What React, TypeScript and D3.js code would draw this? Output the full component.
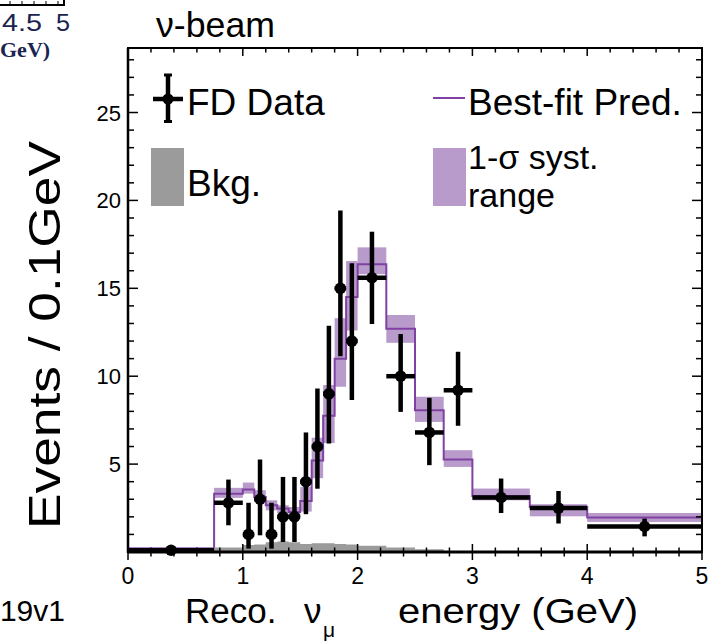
import React from "react";
import * as d3 from "d3";

const binEdges = [0, 0.75, 1.0, 1.1, 1.2, 1.3, 1.4, 1.5, 1.6, 1.7, 1.8, 1.9, 2.0, 2.25, 2.5, 2.75, 3.0, 3.5, 4.0, 5.0];
const dataValues = [0.1, 2.8, 1, 3, 1, 2, 2, 4, 6, 9, 15, 12, 15.6, 10, 6.8, 9.2, 3.1, 2.5, 1.45];
const dataLow = [0.05, 1.52, 0.19, 0.95, 0.19, 0.57, 0.57, 2.15, 3.6, 6.17, 11.14, 8.64, 12.97, 7.97, 4.94, 7.18, 2.22, 1.62, 0.89];
const dataHigh = [0.2, 4.12, 2.8, 5.26, 2.8, 4.27, 4.27, 6.8, 9.3, 12.87, 19.42, 16.42, 18.22, 12.4, 8.77, 11.39, 4.18, 3.47, 1.9];
const predValues = [0.19, 3.32, 3.55, 3.13, 2.66, 2.47, 2.28, 2.9, 5.2, 7.75, 11.0, 14.5, 16.37, 12.7, 8.07, 5.26, 3.19, 2.56, 1.96];
const bandLow = [0.12, 3.08, 3.32, 2.89, 2.37, 2.19, 1.99, 2.3, 4.2, 6.2, 9.4, 12.6, 15.8, 11.9, 7.4, 4.84, 2.94, 2.03, 1.71];
const bandHigh = [0.28, 3.65, 3.95, 3.51, 2.94, 2.66, 2.56, 3.7, 6.5, 9.5, 13.3, 16.55, 17.33, 13.48, 8.83, 5.79, 3.61, 2.72, 2.22];
const bkgValues = [0.03, 0.25, 0.4, 0.42, 0.55, 0.6, 0.55, 0.45, 0.5, 0.5, 0.45, 0.42, 0.35, 0.25, 0.15, 0.05, 0, 0, 0];
const xTickLabels = ["0", "1", "2", "3", "4", "5"];
const yTickLabels = ["5", "10", "15", "20", "25"];

const FONT = "'Liberation Sans', Arial, Helvetica, sans-serif";
const PURPLE = "#8042a2";
const BAND = "#b89acb";
const GRAY = "#9b9b9b";

export default function App() {
  const L = 128, R = 702, T = 48, B = 552;
  const x = d3.scaleLinear().domain([0, 5]).range([L, R]);
  const y = d3.scaleLinear().domain([0, 28.67]).range([B, T]);
  const bins = binEdges.slice(0, -1).map((lo, i) => ({ lo, hi: binEdges[i + 1], i }));

  let predPath = "";
  bins.forEach((b, i) => {
    predPath += (i === 0 ? "M" : "L") + x(b.lo) + "," + y(predValues[i]) + "L" + x(b.hi) + "," + y(predValues[i]);
  });
  let bkgPath = "M" + x(0) + "," + y(0);
  bins.forEach((b, i) => {
    bkgPath += "L" + x(b.lo) + "," + y(bkgValues[i]) + "L" + x(b.hi) + "," + y(bkgValues[i]);
  });
  bkgPath += "L" + x(5) + "," + y(0) + "Z";

  const xMinor = d3.range(0, 5.001, 0.2);
  const yMinor = d3.range(1, 28.5, 1);

  return (
    <svg width={717} height={641} style={{ display: "block", position: "absolute", left: 0, top: 0 }}>
      <rect width={717} height={641} fill="#fff" />
      {/* remnants of neighbouring figure */}
      <path d="M0,5 L64,5 L64,0" fill="none" stroke="#000" strokeWidth={2} />
      {[10, 22, 34, 46, 58].map((t) => (
        <line key={t} x1={t} x2={t} y1={5} y2={1} stroke="#000" strokeWidth={1} />
      ))}
      <text x={2} y={31} fontFamily={FONT} fontSize={23} textLength={40} lengthAdjust="spacingAndGlyphs" fill="#1b2450">4.5</text>
      <text x={56} y={31} fontFamily={FONT} fontSize={23} textLength={14} lengthAdjust="spacingAndGlyphs" fill="#1b2450">5</text>
      <text x={0} y={57} fontFamily="'Liberation Serif', 'DejaVu Serif', serif" fontWeight="bold" fontSize={22} fill="#1b2450">GeV)</text>

      {/* title */}
      <text x={156} y={37} fontFamily={FONT} fontSize={35} textLength={119} lengthAdjust="spacingAndGlyphs" fill="#000">ν-beam</text>

      {/* band */}
      {bins.map((b) => (
        <rect key={"band" + b.i} x={x(b.lo)} width={x(b.hi) - x(b.lo)} y={y(bandHigh[b.i])} height={y(bandLow[b.i]) - y(bandHigh[b.i])} fill={BAND} />
      ))}
      <path d={predPath} fill="none" stroke={PURPLE} strokeWidth={2} />
      <path d={bkgPath} fill={GRAY} stroke="none" />

      {/* data */}
      {bins.map((b) => {
        const cx = x((b.lo + b.hi) / 2);
        const cy = y(dataValues[b.i]);
        return (
          <g key={"d" + b.i}>
            <line x1={x(b.lo)} x2={x(b.hi)} y1={cy} y2={cy} stroke="#000" strokeWidth={4.5} />
            <line x1={cx} x2={cx} y1={y(dataLow[b.i])} y2={y(dataHigh[b.i])} stroke="#000" strokeWidth={4.5} />
            <circle cx={cx} cy={cy} r={5.8} fill="#000" />
          </g>
        );
      })}

      {/* frame */}
      <rect x={L} y={T} width={R - L} height={B - T} fill="none" stroke="#000" strokeWidth={2} />
      <line x1={L} x2={L} y1={T} y2={B + 1} stroke="#000" strokeWidth={2.5} />
      <line x1={L} x2={R} y1={B} y2={B} stroke="#000" strokeWidth={3} />

      {/* x ticks */}
      {xMinor.map((v, i) => {
        const major = Math.abs(v - Math.round(v)) < 1e-6;
        const h = major ? 8 : 4.5;
        return (
          <g key={"xt" + i}>
            <line x1={x(v)} x2={x(v)} y1={B - h} y2={B + h} stroke="#000" strokeWidth={1.5} />
            <line x1={x(v)} x2={x(v)} y1={T} y2={T + h} stroke="#000" strokeWidth={1.5} />
          </g>
        );
      })}
      {/* y ticks */}
      {yMinor.map((v) => {
        const major = v % 5 === 0;
        const w = major ? 10 : 6;
        return (
          <g key={"yt" + v}>
            <line x1={L} x2={L + w} y1={y(v)} y2={y(v)} stroke="#000" strokeWidth={1.5} />
            <line x1={R - w} x2={R} y1={y(v)} y2={y(v)} stroke="#000" strokeWidth={1.5} />
          </g>
        );
      })}
      {xTickLabels.map((t) => (
        <text key={"xl" + t} x={x(+t)} y={584} textAnchor="middle" fontFamily={FONT} fontSize={23} fill="#000">{t}</text>
      ))}
      {yTickLabels.map((t) => (
        <text key={"yl" + t} x={121} y={y(+t) + 8} textAnchor="end" fontFamily={FONT} fontSize={22} fill="#000">{t}</text>
      ))}

      {/* axis titles */}
      <text transform="translate(60,335) rotate(-90)" textAnchor="middle" fontFamily={FONT} fontSize={44} textLength={388} lengthAdjust="spacingAndGlyphs" fill="#000">Events / 0.1GeV</text>
      <text x={65} y={621} textAnchor="end" fontFamily={FONT} fontSize={30} fill="#000">19v1</text>
      <text x={185} y={623} fontFamily={FONT} fontSize={35} fill="#000">Reco.</text>
      <text x={304} y={623} fontFamily={FONT} fontSize={35} fill="#000">ν</text>
      <text x={323} y={637} fontFamily={FONT} fontSize={21} fill="#000">μ</text>
      <text x={398} y={623} fontFamily={FONT} fontSize={35} textLength={240} lengthAdjust="spacingAndGlyphs" fill="#000">energy (GeV)</text>

      {/* legend */}
      <line x1={168} x2={168} y1={74} y2={122.5} stroke="#000" strokeWidth={4.5} />
      <line x1={164} x2={172} y1={75} y2={75} stroke="#000" strokeWidth={3} />
      <line x1={164} x2={172} y1={121.5} y2={121.5} stroke="#000" strokeWidth={3} />
      <line x1={153} x2={183} y1={99} y2={99} stroke="#000" strokeWidth={4.5} />
      <circle cx={168} cy={99} r={5.5} fill="#000" />
      <text x={187} y={114.5} fontFamily={FONT} fontSize={37} fill="#000">FD Data</text>
      <line x1={433} x2={465} y1={98} y2={98} stroke={PURPLE} strokeWidth={2} />
      <text x={468} y={114.5} fontFamily={FONT} fontSize={37} fill="#000">Best-fit Pred.</text>
      <rect x={151} y={148} width={33} height={58} fill={GRAY} />
      <text x={187} y={196} fontFamily={FONT} fontSize={37} fill="#000">Bkg.</text>
      <rect x={433} y={148} width={33} height={58} fill={BAND} />
      <text x={468} y={169} fontFamily={FONT} fontSize={34} fill="#000">1-σ syst.</text>
      <text x={468} y={207} fontFamily={FONT} fontSize={34} fill="#000">range</text>
    </svg>
  );
}
